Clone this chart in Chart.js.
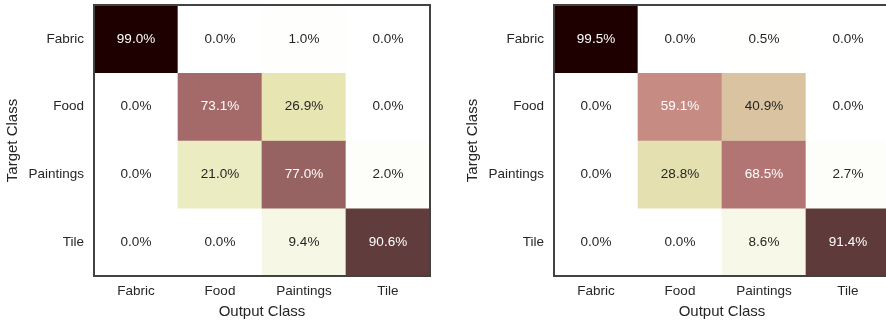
<!DOCTYPE html>
<html>
<head>
<meta charset="utf-8">
<script src="https://cdn.jsdelivr.net/npm/chart.js@4.4.1/dist/chart.umd.min.js"></script>
<style>
  html, body { margin: 0; padding: 0; background: #fff; overflow: hidden; }
  canvas { position: absolute; top: 0; }
</style>
</head>
<body>
<canvas id="left" width="443" height="322" style="left:0px"></canvas>
<canvas id="right" width="443" height="322" style="left:460px"></canvas>
<script>
const outputClasses = ["Fabric", "Food", "Paintings", "Tile"];
const targetClasses = ["Fabric", "Food", "Paintings", "Tile"];

// percentages, one row per target class
const confusionLeft = [
  [99.0, 0.0, 1.0, 0.0],
  [0.0, 73.1, 26.9, 0.0],
  [0.0, 21.0, 77.0, 2.0],
  [0.0, 0.0, 9.4, 90.6],
];
const confusionRight = [
  [99.5, 0.0, 0.5, 0.0],
  [0.0, 59.1, 40.9, 0.0],
  [0.0, 28.8, 68.5, 2.7],
  [0.0, 0.0, 8.6, 91.4],
];

const FONT = "'Liberation Sans', Arial, sans-serif";
const TEXT_DARK = "#262626";

// "pink" colour table, 64 steps: sqrt((2*gray + hot) / 3)
function clamp01(v) { return Math.max(0, Math.min(1, v)); }
const pinkTable = [];
for (let i = 0; i < 64; i++) {
  const gray = i / 63;
  const hot = [
    Math.min(1, (i + 1) / 24),
    i < 24 ? 0 : clamp01((i - 23) / 24),
    i < 48 ? 0 : clamp01((i - 47) / 16),
  ];
  pinkTable.push(hot.map(h => Math.sqrt((2 * gray + h) / 3)));
}
function pink(x) {
  const p = clamp01(x) * 63;
  const i = Math.min(62, Math.floor(p));
  const t = p - i;
  return pinkTable[i].map((c, k) => c + (pinkTable[i + 1][k] - c) * t);
}
// reversed map, sampled into 256 levels
function pinkR(v) {
  const k = Math.min(255, Math.floor(clamp01(v) * 256));
  return pink(1 - k / 255);
}
function toCss(rgb) {
  return "rgb(" + rgb.map(c => Math.round(c * 255)).join(",") + ")";
}
function luminance(rgb) {
  const lin = rgb.map(c => c <= 0.03928 ? c / 12.92 : Math.pow((c + 0.055) / 1.055, 2.4));
  return 0.2126 * lin[0] + 0.7152 * lin[1] + 0.0722 * lin[2];
}

const cellText = {
  id: "cellText",
  afterDatasetsDraw(chart) {
    const ctx = chart.ctx;
    ctx.save();
    ctx.font = "13.5px " + FONT;
    ctx.textAlign = "center";
    ctx.textBaseline = "middle";
    chart.data.datasets.forEach((ds, r) => {
      chart.getDatasetMeta(r).data.forEach((bar, c) => {
        const pt = bar.getCenterPoint();
        ctx.fillStyle = ds.textColors[c];
        ctx.fillText(ds.values[c].toFixed(1) + "%", pt.x, pt.y);
      });
    });
    ctx.restore();
  },
  afterDraw(chart) {
    const a = chart.chartArea;
    const ctx = chart.ctx;
    ctx.save();
    ctx.strokeStyle = "#424242";
    ctx.lineWidth = 2;
    ctx.strokeRect(a.left, a.top, a.right - a.left, a.bottom - a.top);
    ctx.restore();
  },
};

function drawMatrix(canvas, matrix) {
  const vmax = Math.max(...matrix.flat());
  const datasets = matrix.map((row, r) => {
    const colors = row.map(v => pinkR(v / vmax));
    return {
      data: row.map(() => [r, r + 1]),
      values: row,
      backgroundColor: colors.map(toCss),
      textColors: colors.map(c => luminance(c) > 0.408 ? TEXT_DARK : "#ffffff"),
      borderWidth: 0,
      barPercentage: 1,
      categoryPercentage: 1,
      grouped: false,
    };
  });

  return new Chart(canvas.getContext("2d"), {
    type: "bar",
    data: { labels: outputClasses, datasets: datasets },
    options: {
      responsive: false,
      animation: false,
      layout: { padding: { top: 5, right: 13, left: 0, bottom: 0 } },
      plugins: { legend: { display: false }, tooltip: { enabled: false } },
      scales: {
        x: {
          type: "category",
          grid: { display: false, drawTicks: false },
          border: { display: false },
          ticks: { color: TEXT_DARK, padding: 7.5, font: { family: FONT, size: 13.5 } },
          title: {
            display: true, text: "Output Class", color: TEXT_DARK,
            font: { family: FONT, size: 15 }, padding: { top: 0, bottom: 1 },
          },
          afterFit(scale) {
            scale.height = 46;
            scale.paddingLeft = 0;
            scale.paddingRight = 0;
          },
        },
        y: {
          type: "linear",
          min: 0,
          max: 4,
          reverse: true,
          grid: { display: false, drawTicks: false },
          border: { display: false },
          afterBuildTicks(scale) {
            scale.ticks = targetClasses.map((_, i) => ({ value: i + 0.5 }));
          },
          ticks: {
            color: TEXT_DARK, padding: 10, font: { family: FONT, size: 13.5 },
            callback: (value, index) => targetClasses[index],
          },
          title: {
            display: true, text: "Target Class", color: TEXT_DARK,
            font: { family: FONT, size: 15 }, padding: { top: 4, bottom: 0 },
          },
          afterFit(scale) {
            scale.width = 94;
            scale.paddingTop = 0;
            scale.paddingBottom = 0;
          },
        },
      },
    },
    plugins: [cellText],
  });
}

drawMatrix(document.getElementById("left"), confusionLeft);
drawMatrix(document.getElementById("right"), confusionRight);
</script>
</body>
</html>
